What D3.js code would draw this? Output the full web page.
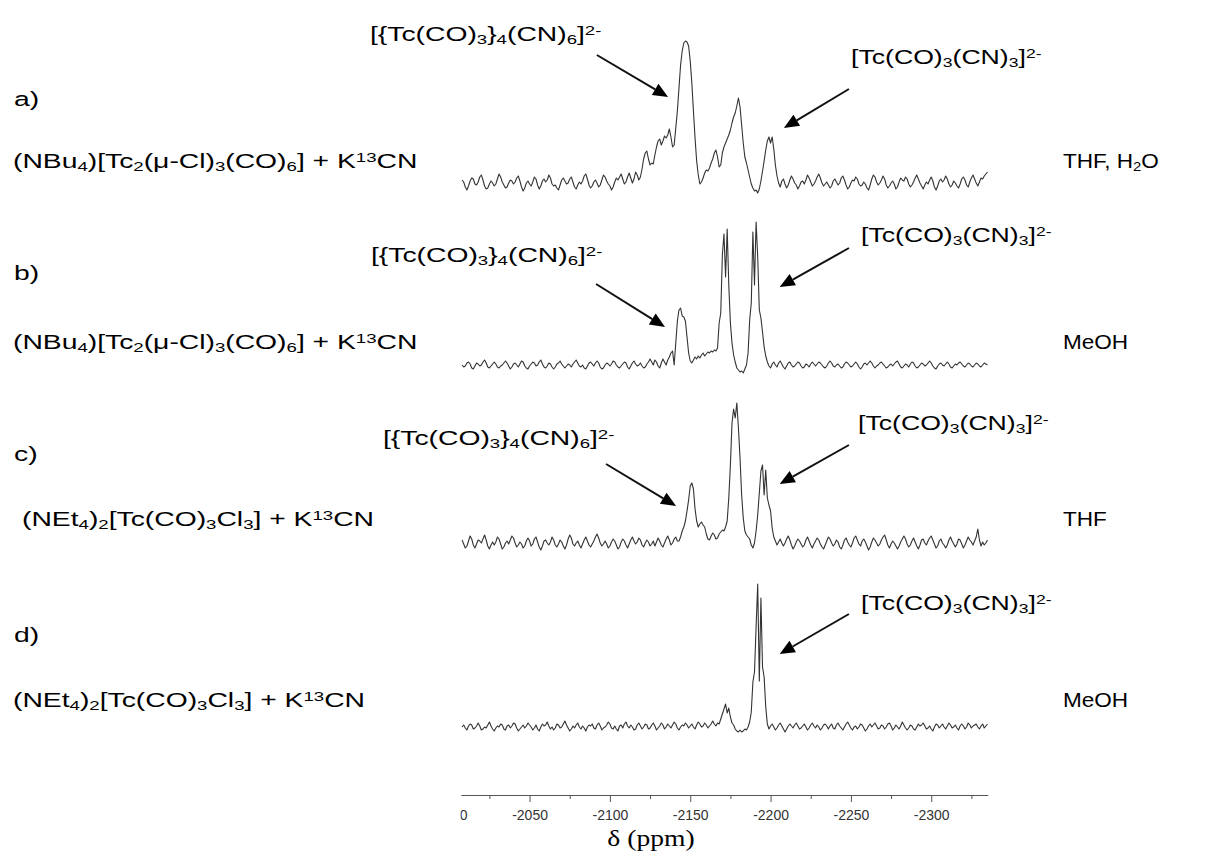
<!DOCTYPE html>
<html>
<head>
<meta charset="utf-8">
<script src="https://cdn.jsdelivr.net/npm/d3@7"></script>
<style>
  html, body { margin: 0; padding: 0; background: #fff; }
  svg { display: block; }
  .lbl { font-family: "Liberation Sans", Arial, sans-serif; fill: #000; }
</style>
</head>
<body>
<svg id="chart" width="1205" height="852"></svg>
<script>
// ---- 13C NMR traces, intensity sampled every 1 ppm from -2008 ppm ----
const ppmStart = -2008;
const ppmStep = -1;

// a) (NBu4)[Tc2(µ-Cl)3(CO)6] + K13CN in THF/H2O
const specA = [
  3,1,-4,-7,-3,2,5,4,-1,-2,1,6,8,3,-3,-6,-5,-1,2,0,
  -3,-1,4,9,6,1,-2,-5,-4,0,3,2,-1,1,5,7,2,-4,-8,-5,
  0,2,-1,-3,1,6,4,-2,-6,-3,2,4,1,3,8,5,-1,-3,-2,-5,
  -7,-2,3,5,2,-1,0,4,6,1,-4,-6,-2,1,-1,2,7,9,4,-2,
  -5,-3,1,3,0,-4,-2,3,8,6,2,-1,-3,-7,-4,1,5,3,6,9,
  4,-1,1,6,10,5,0,4,11,8,3,6,14,24,30,32,24,18,20,19,
  28,36,42,44,38,42,47,45,48,54,46,36,38,55,72,95,118,132,140,142,
  141,137,122,100,72,45,22,8,-1,1,5,10,13,12,15,20,24,30,33,26,
  16,18,30,36,40,44,48,53,60,66,70,77,85,76,58,40,26,20,13,6,
  -1,-5,-8,-7,-10,-6,2,12,22,33,42,46,40,46,34,18,7,0,-4,2,
  4,-1,-5,-2,3,7,4,0,-2,-6,-3,1,2,-1,3,8,5,1,-3,-1,
  2,6,9,5,0,-3,-1,1,-2,-5,-3,2,4,1,-2,0,5,7,3,-2,
  -6,-4,0,3,2,6,4,-1,-3,-2,1,-1,-5,-7,-2,4,8,6,1,-2,
  0,3,7,4,-2,-5,-3,0,2,-1,-6,-4,1,5,3,2,6,4,-1,-4,
  -2,1,5,8,4,0,-3,-6,-2,1,-1,3,6,2,-4,-7,-3,2,4,1,
  3,7,4,-1,-4,-2,2,0,-3,-5,-1,4,6,3,-2,-4,1,5,8,4,
  0,-3,1,5,4,7,9,11
];

// b) (NBu4)[Tc2(µ-Cl)3(CO)6] + K13CN in MeOH
const specB = [
  0,-2,-1,2,3,1,-3,-4,-1,2,1,-1,0,3,5,2,-2,-3,-1,1,
  3,1,-2,-3,-1,0,2,4,2,-1,-4,-2,1,2,0,-2,1,4,3,-1,
  -3,-4,-1,1,3,2,-1,0,3,5,1,-2,-3,-1,2,1,-2,-4,-2,1,
  2,4,1,-1,-3,-1,1,0,-2,1,3,5,2,-1,-2,0,-3,-4,-1,2,
  3,1,-1,2,4,2,-2,-4,-3,0,2,1,-1,1,4,3,0,-2,-3,-1,
  1,3,2,-2,-4,-1,2,4,1,-1,0,2,-1,-3,-2,1,3,6,3,0,
  5,3,-1,-3,2,6,3,0,5,8,12,14,0,22,44,55,57,49,48,44,
  28,12,4,2,5,8,6,9,7,10,12,9,11,13,12,14,13,15,14,17,
  42,52,110,131,88,136,80,42,22,10,3,-3,-5,-7,-6,-8,-4,0,12,45,
  62,133,80,143,108,55,47,33,18,9,3,-1,-3,1,3,0,-2,2,4,1,
  -2,-4,-1,2,3,0,-2,-1,1,3,2,-1,-3,-2,1,0,-2,1,3,1,
  -1,1,3,2,0,-2,-3,-1,2,4,2,-1,-2,0,1,-1,-3,-2,1,3,
  2,0,-2,-1,1,3,1,-2,-4,-2,1,2,0,2,4,2,-1,-3,-1,0,
  2,3,1,-1,-3,-2,0,1,-1,1,3,4,1,-2,-3,-1,1,0,-2,1,
  3,2,-1,-3,-2,0,2,1,-1,0,2,4,2,-1,-3,-4,-1,1,2,0,
  -1,1,3,1,-2,-3,-1,1,0,2,3,1,-1,-2,0,2,1,-1,-2,0,
  2,1,-1,-2,0,2,1,0
];

// c) (NEt4)2[Tc(CO)3Cl3] + K13CN in THF
const specC = [
  3,-1,-5,-3,2,7,4,-2,-5,-1,3,2,0,4,8,3,-3,-6,-2,1,
  -2,1,6,4,-1,-6,-4,0,2,-1,3,7,5,0,-4,-2,1,-1,-5,-3,
  2,5,2,-3,-1,4,6,1,-4,-7,-3,2,3,0,-2,1,6,3,-2,-4,
  -1,3,1,-3,-6,-2,4,8,5,-1,-3,0,2,-2,-5,-1,3,6,2,-2,
  -4,-1,2,6,9,5,0,-3,-1,2,-1,-5,-3,1,4,2,-2,-6,-4,1,
  4,2,-2,-5,-1,3,6,2,-1,1,5,3,-2,-4,0,3,1,-3,-1,2,
  -3,1,5,2,-2,-4,0,4,7,3,-2,0,4,6,2,2,6,12,16,22,
  32,43,57,60,54,34,22,16,19,21,18,16,9,4,3,7,10,8,4,5,
  9,11,13,12,16,22,45,78,120,134,125,140,115,85,48,25,12,8,6,4,
  -2,-5,0,12,28,50,72,78,48,73,45,38,32,15,6,2,-2,1,4,0,
  -3,0,4,7,3,-2,-6,-3,1,4,2,-1,-4,-2,3,6,2,-2,-5,-1,
  2,5,3,-1,-4,-6,-2,2,6,4,0,-3,-1,3,1,-4,-6,-2,3,5,
  1,-2,-4,0,5,7,3,-1,-3,2,4,1,-3,-7,-4,1,5,3,0,-3,
  -1,3,6,8,3,-2,-5,-1,2,0,-3,-6,-3,1,4,7,4,-1,-4,-2,
  2,5,1,-3,-6,-2,3,4,0,-2,2,5,7,3,-1,-5,-3,2,4,0,
  -2,-5,-2,3,6,2,-1,-4,-1,4,3,-1,-5,-2,2,6,3,1,-2,2,
  6,14,3,-3,1,-2,0,3
];

// d) (NEt4)2[Tc(CO)3Cl3] + K13CN in MeOH
const specD = [
  0,2,-1,-3,1,3,2,-2,-1,1,4,1,-3,-2,0,-1,2,5,1,-2,
  -4,-1,1,0,3,2,-2,-3,1,2,-1,1,4,3,-1,-4,-2,0,2,-1,
  1,4,2,0,-3,-1,2,-2,-4,0,3,1,2,5,1,-2,0,-3,-1,3,
  2,-1,0,3,6,2,-1,-4,-2,1,-1,2,4,0,-2,1,-1,-4,0,2,
  1,3,-1,-2,2,4,1,-3,-1,0,2,5,3,-1,-2,1,-2,-4,1,2,
  -1,3,5,1,-1,2,0,-3,-2,2,4,1,-2,0,3,2,-2,-1,2,4,
  1,-3,-1,1,4,2,-2,0,3,1,-1,2,5,3,-1,-3,0,2,1,4,
  2,-1,1,3,0,-2,2,5,3,0,1,4,2,-1,1,3,6,3,1,4,
  3,8,13,18,23,14,19,10,4,2,-2,-4,-5,-3,-5,-4,-2,-3,0,5,
  15,45,55,100,143,46,129,60,50,20,3,-2,1,3,0,-3,-1,2,4,1,
  -2,-5,-2,1,3,1,-1,2,4,1,-2,-1,1,3,0,-3,-1,2,4,1,
  -1,2,0,-3,-1,2,3,1,-2,1,3,-1,-2,2,4,1,-1,-3,0,3,
  5,2,-1,-3,0,1,-2,0,3,2,-1,-4,-2,1,3,0,2,4,1,-2,
  -1,2,1,-2,0,3,4,1,-3,-1,2,0,-2,1,5,2,-1,-3,-1,2,
  1,-2,-3,0,3,1,2,4,1,-2,-1,1,-2,-4,0,3,2,-1,1,3,
  0,-2,1,4,2,-1,0,2,-1,-3,1,3,1,-2,0,4,2,-1,1,2,
  3,0,-2,1,3,-1,1,3
];

// Axis ticks (ppm) and their labels
const tickPpm = [-2000,-2025,-2050,-2075,-2100,-2125,-2150,-2175,-2200,-2225,-2250,-2275,-2300,-2325];
const tickLabels = ["-2000","-2050","-2100","-2150","-2200","-2250","-2300"];

// Row letters, reactants and solvents
const rowLetters = ["a)", "b)", "c)", "d)"];
const reactants = [
  "(NBu_{4})[Tc_{2}(μ-Cl)_{3}(CO)_{6}] + K^{13}CN",
  "(NBu_{4})[Tc_{2}(μ-Cl)_{3}(CO)_{6}] + K^{13}CN",
  "(NEt_{4})_{2}[Tc(CO)_{3}Cl_{3}] + K^{13}CN",
  "(NEt_{4})_{2}[Tc(CO)_{3}Cl_{3}] + K^{13}CN"
];
const solvents = ["THF, H_{2}O", "MeOH", "THF", "MeOH"];

// Species names used for the peak assignments
const clusterName = "[{Tc(CO)_{3}}_{4}(CN)_{6}]^{2-}";
const monomerName = "[Tc(CO)_{3}(CN)_{3}]^{2-}";

// Peak-assignment arrows per trace: tail and head as [ppm, intensity]
const arrowsA = [
  { from: [-2091.9, 128], to: [-2136.2, 86] },
  { from: [-2248.8, 94],  to: [-2208.3, 55] }
];
const arrowsB = [
  { from: [-2091.4, 81],  to: [-2134.3, 38] },
  { from: [-2248.8, 117], to: [-2205.7, 78] }
];
const arrowsC = [
  { from: [-2097.6, 79],  to: [-2141.2, 37] },
  { from: [-2248.8, 98],  to: [-2205.7, 59] }
];
const arrowsD = [
  { from: [-2248.8, 113], to: [-2205.7, 73] }
];

// ---- drawing ----
const svg = d3.select("#chart");
svg.append("rect").attr("width", 1205).attr("height", 852).attr("fill", "#fff");

const FS = 20.5, SUBFS = 13.5, SX = 1.38, SUB_DY = 3, SUP_DY = -6.5;

// text with _{sub} / ^{sup} markup, horizontally stretched like the original figure
function richText(parent, str, x, y, opts = {}) {
  const fs = opts.fs || FS, sfs = opts.sfs || SUBFS, sx = opts.sx || SX;
  const t = parent.append("text")
    .attr("class", "lbl")
    .attr("transform", `translate(${x},${y}) scale(${sx},1)`)
    .style("font-size", fs + "px");
  const parts = str.split(/([_^]\{[^}]*\})/).filter(s => s.length);
  let shift = 0;
  parts.forEach(p => {
    let kind = 0, txt = p;
    if (/^[_^]\{/.test(p)) { kind = p[0] === "_" ? 1 : -1; txt = p.slice(2, -1); }
    const target = kind === 1 ? SUB_DY : kind === -1 ? SUP_DY : 0;
    const ts = t.append("tspan").text(txt);
    if (target - shift !== 0) ts.attr("dy", target - shift);
    if (kind) ts.style("font-size", sfs + "px");
    shift = target;
  });
  return t;
}

const x = d3.scaleLinear().domain([-2007.2, -2335.4]).range([460.8, 988.1]);

const rows = [
  { spec: specA, base: 183, arrows: arrowsA, letterY: 106, textY: 168 },
  { spec: specB, base: 365, arrows: arrowsB, letterY: 280, textY: 349 },
  { spec: specC, base: 543, arrows: arrowsC, letterY: 461, textY: 526 },
  { spec: specD, base: 727, arrows: arrowsD, letterY: 642, textY: 707 }
];
const reactantX = [13, 13, 22, 13];

rows.forEach((r, k) => {
  const y = d3.scaleLinear().domain([0, 100]).range([r.base, r.base - 100]);
  const line = d3.line()
    .x((d, i) => x(ppmStart + i * ppmStep))
    .y(d => y(d));
  svg.append("path")
    .datum(r.spec)
    .attr("d", line)
    .attr("fill", "none")
    .attr("stroke", "#333")
    .attr("stroke-width", 1.1)
    .attr("stroke-linejoin", "round");

  // assignment arrows
  r.arrows.forEach(a => {
    const x1 = x(a.from[0]), y1 = y(a.from[1]);
    const x2 = x(a.to[0]), y2 = y(a.to[1]);
    const ang = Math.atan2(y2 - y1, x2 - x1);
    const L = 15, W = 6.5;
    const bx = x2 - L * Math.cos(ang), by = y2 - L * Math.sin(ang);
    svg.append("line")
      .attr("x1", x1).attr("y1", y1).attr("x2", bx).attr("y2", by)
      .attr("stroke", "#111").attr("stroke-width", 2);
    const pts = [
      [x2, y2],
      [bx + W * Math.sin(ang), by - W * Math.cos(ang)],
      [bx - W * Math.sin(ang), by + W * Math.cos(ang)]
    ];
    svg.append("polygon").attr("points", pts.map(p => p.join(",")).join(" ")).attr("fill", "#000");
  });

  richText(svg, rowLetters[k], 14, r.letterY);
  richText(svg, reactants[k], reactantX[k], r.textY);
  richText(svg, solvents[k], 1063, r.textY, { sx: 1.1 });
});

// species labels above the arrows
const MONO_SX = 1.3;
richText(svg, clusterName, 370, 41);
richText(svg, monomerName, 851, 64, { sx: MONO_SX });
richText(svg, clusterName, 371, 262);
richText(svg, monomerName, 861, 242, { sx: MONO_SX });
richText(svg, clusterName, 383, 445);
richText(svg, monomerName, 858, 430, { sx: MONO_SX });
richText(svg, monomerName, 861, 610, { sx: MONO_SX });

// ---- chemical shift axis ----
const axisY = 795;
// clip region is in the axis group's own coordinates
svg.append("clipPath").attr("id", "axclip")
  .append("rect").attr("x", 460.5).attr("y", -10).attr("width", 528).attr("height", 45);

const axis = d3.axisBottom(x)
  .tickValues(tickPpm)
  .tickSizeOuter(0)
  .tickSizeInner(4)
  .tickFormat(d => tickLabels.includes(String(d)) ? String(d) : "");

const ag = svg.append("g")
  .attr("transform", `translate(0,${axisY})`)
  .attr("clip-path", "url(#axclip)")
  .call(axis);
ag.select(".domain").attr("stroke", "#555").attr("stroke-width", 1);
ag.selectAll(".tick line")
  .attr("stroke", "#555")
  .attr("y2", d => (d % 50 === 0 ? 7 : 4));
ag.selectAll(".tick text")
  .attr("y", 15)
  .attr("fill", "#333")
  .style("font-family", "'Liberation Sans', Arial, sans-serif")
  .style("font-size", "14px");

svg.append("text")
  .attr("transform", "translate(651,846) scale(1.2,1)")
  .attr("text-anchor", "middle")
  .style("font-family", "'Liberation Serif', 'Times New Roman', serif")
  .style("font-size", "23px")
  .attr("fill", "#000")
  .text("δ (ppm)");
</script>
</body>
</html>
